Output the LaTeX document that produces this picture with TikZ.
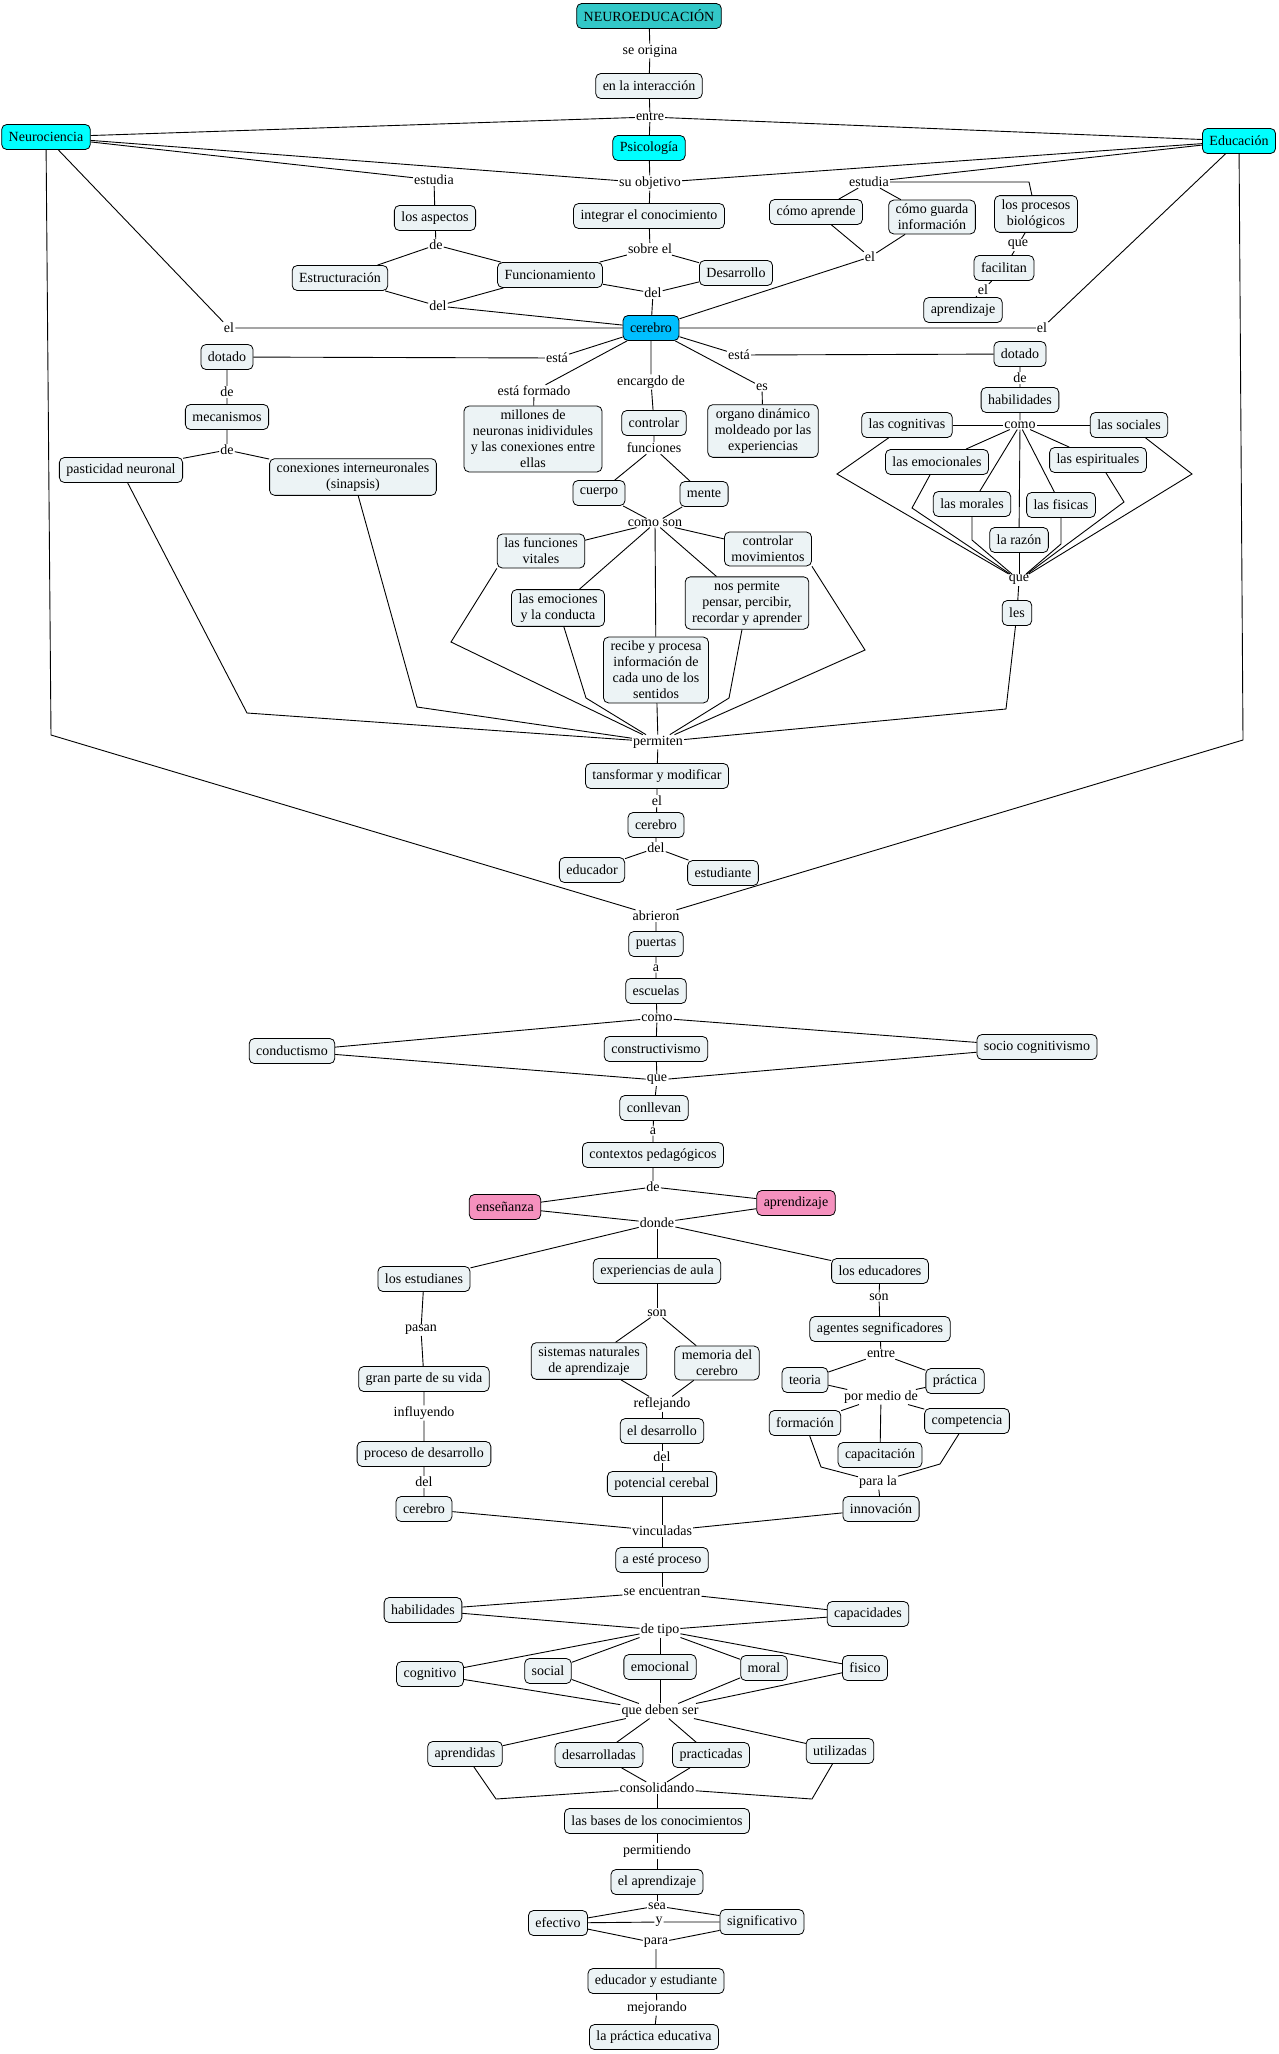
\documentclass[tikz,border=0pt]{standalone}
\usepackage{fontspec}
\setmainfont{Liberation Serif}
\newcommand\cmfont{\fontsize{14}{16}\selectfont}
\definecolor{boxfill}{RGB}{236,243,245}
\definecolor{teal1}{RGB}{51,200,200}
\definecolor{cyan1}{RGB}{0,255,255}
\definecolor{blue1}{RGB}{0,191,255}
\definecolor{pink1}{RGB}{245,145,190}
\tikzset{
  cpt/.style={draw=black, line width=0.8pt, rounded corners=5pt, fill=boxfill,
    inner xsep=7pt, inner ysep=4pt, minimum height=25pt, align=center, font=\cmfont},
  lnk/.style={inner sep=1pt, font=\cmfont},
  con/.style={line width=0.9pt, black}
}
\begin{document}
\begin{tikzpicture}[x=1pt,y=-1pt]
\fill[white] (0,0) rectangle (1279,2054);
\useasboundingbox (0,0) rectangle (1279,2054);
% ---------- top ----------
\node[cpt, fill=teal1] (neuroed) at (649,16) {NEUROEDUCACIÓN};
\node[lnk] (l_origina) at (650,51) {se origina};
\node[cpt] (interac) at (649,86) {en la interacción};
\node[lnk] (l_entre) at (650,117) {entre};
\node[cpt, fill=cyan1] (neuro) at (46,137) {Neurociencia};
\node[cpt, fill=cyan1] (psico) at (649,148) {Psicología};
\node[cpt, fill=cyan1] (educ) at (1239,141) {Educación};
\node[lnk] (l_objetivo) at (650,183) {su objetivo};
\node[lnk] (l_estudiaL) at (434,180) {estudia};
\node[lnk] (l_estudiaR) at (869,182) {estudia};
\node[cpt] (aspectos) at (435,218) {los aspectos};
\node[cpt] (integrar) at (649,216) {integrar el conocimiento};
\node[cpt] (comoapr) at (816,212) {cómo aprende};
\node[cpt] (comoguarda) at (932,217) {cómo guarda\\información};
\node[cpt] (procesos) at (1036,214) {los procesos\\biológicos};
\node[lnk] (l_deA) at (436,245) {de};
\node[lnk] (l_sobre) at (650,249) {sobre el};
\node[lnk] (l_elM) at (870,257) {el};
\node[lnk] (l_queA) at (1018,245) {que};
\node[cpt] (estruct) at (340,278) {Estructuración};
\node[cpt] (funcion) at (550,275) {Funcionamiento};
\node[cpt] (desarrollo) at (736,273) {Desarrollo};
\node[cpt] (facilitan) at (1004,268) {facilitan};
\node[lnk] (l_delL) at (438,306) {del};
\node[lnk] (l_delC) at (653,293) {del};
\node[lnk] (l_elA) at (983,290) {el};
\node[cpt] (aprendA) at (963,310) {aprendizaje};
\node[lnk] (l_elL) at (229,328) {el};
\node[lnk] (l_elR) at (1042,328) {el};
\node[cpt, fill=blue1] (cerebro) at (651,328) {cerebro};
% ---------- cerebro area ----------
\node[lnk] (l_estaL) at (557,358) {está};
\node[lnk] (l_estaR) at (739,355) {está};
\node[cpt] (dotadoL) at (227,357) {dotado};
\node[cpt] (dotadoR) at (1020,354) {dotado};
\node[lnk] (l_deB) at (227,392) {de};
\node[cpt] (mecan) at (227,417) {mecanismos};
\node[lnk] (l_deC) at (227,450) {de};
\node[cpt] (plast) at (121,470) {pasticidad neuronal};
\node[cpt] (conex) at (353,477) {conexiones interneuronales\\(sinapsis)};
\node[lnk] (l_formado) at (534,391) {está formado};
\node[cpt] (millones) at (533,439) {millones de\\neuronas inidividules\\y las conexiones entre\\ellas};
\node[lnk] (l_encargo) at (651,382) {encargdo de};
\node[cpt] (controlar) at (654,423) {controlar};
\node[lnk] (l_funciones) at (654,448) {funciones};
\node[cpt] (cuerpo) at (599,493) {cuerpo};
\node[cpt] (mente) at (704,494) {mente};
\node[lnk] (l_comoson) at (655,523) {como son};
\node[cpt] (vitales) at (541,551) {las funciones\\vitales};
\node[cpt] (movim) at (768,549) {controlar\\movimientos};
\node[cpt] (emoc) at (558,608) {las emociones\\y la conducta};
\node[cpt] (pensar) at (747,603) {nos permite\\pensar, percibir,\\recordar y aprender};
\node[cpt] (recibe) at (656,670) {recibe y procesa\\información de\\cada uno de los\\sentidos};
\node[lnk] (l_es) at (762,387) {es};
\node[cpt] (organo) at (763,431) {organo dinámico\\moldeado por las\\experiencias};
% ---------- habilidades right ----------
\node[lnk] (l_deD) at (1020,378) {de};
\node[cpt] (habil) at (1020,400) {habilidades};
\node[lnk] (l_como) at (1020,425) {como};
\node[cpt] (cognit) at (907,425) {las cognitivas};
\node[cpt] (social) at (1129,425) {las sociales};
\node[cpt] (emocion) at (937,462) {las emocionales};
\node[cpt] (espirit) at (1098,460) {las espirituales};
\node[cpt] (morales) at (972,504) {las morales};
\node[cpt] (fisicas) at (1061,505) {las fisicas};
\node[cpt] (razon) at (1019,540) {la razón};
\node[lnk] (l_queB) at (1019,580) {que};
\node[cpt] (les) at (1017,613) {les};
% ---------- middle ----------
\node[lnk] (l_permiten) at (658,742) {permiten};
\node[cpt] (transf) at (657,776) {tansformar y modificar};
\node[lnk] (l_elB) at (657,801) {el};
\node[cpt] (cerebroB) at (656,825) {cerebro};
\node[lnk] (l_delB) at (656,848) {del};
\node[cpt] (educador) at (592,870) {educador};
\node[cpt] (estudiante) at (723,873) {estudiante};
\node[lnk] (l_abrieron) at (656,916) {abrieron};
\node[cpt] (puertas) at (656,944) {puertas};
\node[lnk] (l_aA) at (656,968) {a};
\node[cpt] (escuelas) at (656,991) {escuelas};
\node[lnk] (l_comoB) at (657,1018) {como};
\node[cpt] (conduct) at (292,1051) {conductismo};
\node[cpt] (construct) at (656,1049) {constructivismo};
\node[cpt] (sociocog) at (1037,1047) {socio cognitivismo};
\node[lnk] (l_queC) at (657,1080) {que};
\node[cpt] (conllevan) at (654,1108) {conllevan};
\node[lnk] (l_aB) at (653,1131) {a};
\node[cpt] (contextos) at (653,1155) {contextos pedagógicos};
\node[lnk] (l_deE) at (653,1187) {de};
\node[cpt, fill=pink1] (ensen) at (505,1207) {enseñanza};
\node[cpt, fill=pink1] (aprendB) at (796,1203) {aprendizaje};
\node[lnk] (l_donde) at (657,1223) {donde};
% ---------- lower ----------
\node[cpt] (estudianes) at (424,1279) {los estudianes};
\node[cpt] (experiencias) at (657,1271) {experiencias de aula};
\node[cpt] (educadores) at (880,1271) {los educadores};
\node[lnk] (l_pasan) at (421,1330) {pasan};
\node[cpt] (granparte) at (424,1379) {gran parte de su vida};
\node[lnk] (l_influyendo) at (424,1413) {influyendo};
\node[cpt] (procdes) at (424,1454) {proceso de desarrollo};
\node[lnk] (l_delD) at (424,1482) {del};
\node[cpt] (cerebroC) at (424,1509) {cerebro};
\node[lnk] (l_sonA) at (657,1313) {son};
\node[cpt] (sistemas) at (589,1361) {sistemas naturales\\de aprendizaje};
\node[cpt] (memoria) at (717,1363) {memoria del\\cerebro};
\node[lnk] (l_reflejando) at (662,1404) {reflejando};
\node[cpt] (eldesarrollo) at (662,1431) {el desarrollo};
\node[lnk] (l_delE) at (662,1457) {del};
\node[cpt] (potencial) at (662,1484) {potencial cerebal};
\node[lnk] (l_vinculadas) at (662,1531) {vinculadas};
\node[lnk] (l_sonB) at (879,1297) {son};
\node[cpt] (agentes) at (880,1329) {agentes segnificadores};
\node[lnk] (l_entreB) at (881,1354) {entre};
\node[cpt] (teoria) at (805,1380) {teoria};
\node[cpt] (practica) at (955,1381) {práctica};
\node[lnk] (l_pormedio) at (881,1397) {por medio de};
\node[cpt] (formacion) at (805,1423) {formación};
\node[cpt] (capacit) at (880,1455) {capacitación};
\node[cpt] (competencia) at (967,1421) {competencia};
\node[lnk] (l_parala) at (878,1482) {para la};
\node[cpt] (innovacion) at (881,1509) {innovación};
% ---------- bottom ----------
\node[cpt] (esteproceso) at (662,1560) {a esté proceso};
\node[lnk] (l_encuentran) at (662,1592) {se encuentran};
\node[cpt] (habilB) at (423,1610) {habilidades};
\node[cpt] (capacidades) at (868,1614) {capacidades};
\node[lnk] (l_detipo) at (660,1630) {de tipo};
\node[cpt] (cognitivo) at (430,1674) {cognitivo};
\node[cpt] (socialB) at (548,1671) {social};
\node[cpt] (emocional) at (660,1667) {emocional};
\node[cpt] (moral) at (764,1668) {moral};
\node[cpt] (fisico) at (865,1668) {fisico};
\node[lnk] (l_deben) at (660,1711) {que deben ser};
\node[cpt] (aprendidas) at (465,1754) {aprendidas};
\node[cpt] (desarrolladas) at (599,1755) {desarrolladas};
\node[cpt] (practicadas) at (711,1755) {practicadas};
\node[cpt] (utilizadas) at (840,1751) {utilizadas};
\node[lnk] (l_consolidando) at (657,1788) {consolidando};
\node[cpt] (bases) at (657,1821) {las bases de los conocimientos};
\node[lnk] (l_permitiendo) at (657,1851) {permitiendo};
\node[cpt] (elaprendizaje) at (657,1882) {el aprendizaje};
\node[lnk] (l_sea) at (657,1906) {sea};
\node[lnk] (l_y) at (659,1922) {y};
\node[lnk] (l_para) at (656,1943) {para};
\node[cpt] (efectivo) at (558,1923) {efectivo};
\node[cpt] (signif) at (762,1922) {significativo};
\node[cpt] (edyest) at (656,1981) {educador y estudiante};
\node[lnk] (l_mejorando) at (657,2008) {mejorando};
\node[cpt] (practicaed) at (654,2037) {la práctica educativa};
% ---------- bends ----------
\coordinate (bNeuro) at (51,735);
\coordinate (bEduc) at (1243,740);
\coordinate (bProc) at (1029,182);
\coordinate (bPlast) at (247,713);
\coordinate (bConex) at (417,707);
\coordinate (bVit) at (451,642);
\coordinate (bEmo) at (586,698);
\coordinate (bPens) at (729,698);
\coordinate (bMov) at (865,650);
\coordinate (bLes) at (1006,709);
\coordinate (bCog) at (837,474);
\coordinate (bEmoc) at (912,508);
\coordinate (bMor) at (972,540);
\coordinate (bFis) at (1061,544);
\coordinate (bEsp) at (1124,502);
\coordinate (bSoc) at (1192,474);
\coordinate (bForm) at (821,1467);
\coordinate (bComp) at (940,1464);
\coordinate (bAprd) at (496,1799);
\coordinate (bUtil) at (812,1799);
% ---------- connectors ----------
\begin{scope}[con]
\draw (neuroed) -- (l_origina) -- (interac) -- (l_entre);
\draw (l_entre) -- (neuro);
\draw (l_entre) -- (psico);
\draw (l_entre) -- (educ);
\draw (neuro) -- (l_estudiaL) -- (aspectos) -- (l_deA);
\draw (l_deA) -- (estruct);
\draw (l_deA) -- (funcion);
\draw (estruct) -- (l_delL) -- (cerebro);
\draw (funcion) -- (l_delL);
\draw (neuro) -- (l_objetivo);
\draw (psico) -- (l_objetivo);
\draw (educ) -- (l_objetivo);
\draw (l_objetivo) -- (integrar) -- (l_sobre);
\draw (l_sobre) -- (funcion);
\draw (l_sobre) -- (desarrollo);
\draw (funcion) -- (l_delC);
\draw (desarrollo) -- (l_delC);
\draw (l_delC) -- (cerebro);
\draw (neuro) -- (l_elL) -- (cerebro);
\draw (educ) -- (l_estudiaR);
\draw (l_estudiaR) -- (comoapr);
\draw (l_estudiaR) -- (comoguarda);
\draw (l_estudiaR) -- (bProc) -- (procesos);
\draw (comoapr) -- (l_elM);
\draw (comoguarda) -- (l_elM);
\draw (l_elM) -- (cerebro);
\draw (procesos) -- (l_queA) -- (facilitan) -- (l_elA) -- (aprendA);
\draw (educ) -- (l_elR) -- (cerebro);
\draw (neuro) -- (bNeuro) -- (l_abrieron);
\draw (educ) -- (bEduc) -- (l_abrieron);
\draw (cerebro) -- (l_estaL) -- (dotadoL) -- (l_deB) -- (mecan) -- (l_deC);
\draw (l_deC) -- (plast);
\draw (l_deC) -- (conex);
\draw (cerebro) -- (l_formado) -- (millones);
\draw (cerebro) -- (l_encargo) -- (controlar) -- (l_funciones);
\draw (l_funciones) -- (cuerpo);
\draw (l_funciones) -- (mente);
\draw (cuerpo) -- (l_comoson);
\draw (mente) -- (l_comoson);
\draw (l_comoson) -- (vitales);
\draw (l_comoson) -- (movim);
\draw (l_comoson) -- (emoc);
\draw (l_comoson) -- (pensar);
\draw (l_comoson) -- (recibe);
\draw (cerebro) -- (l_es) -- (organo);
\draw (cerebro) -- (l_estaR) -- (dotadoR) -- (l_deD) -- (habil) -- (l_como);
\draw (l_como) -- (cognit);
\draw (l_como) -- (social);
\draw (l_como) -- (emocion);
\draw (l_como) -- (espirit);
\draw (l_como) -- (morales);
\draw (l_como) -- (fisicas);
\draw (l_como) -- (razon);
\draw (cognit) -- (bCog) -- (l_queB);
\draw (emocion) -- (bEmoc) -- (l_queB);
\draw (morales) -- (bMor) -- (l_queB);
\draw (razon) -- (l_queB);
\draw (fisicas) -- (bFis) -- (l_queB);
\draw (espirit) -- (bEsp) -- (l_queB);
\draw (social) -- (bSoc) -- (l_queB);
\draw (l_queB) -- (les);
\draw (plast) -- (bPlast) -- (l_permiten);
\draw (conex) -- (bConex) -- (l_permiten);
\draw (vitales.south west) -- (bVit) -- (l_permiten);
\draw (emoc) -- (bEmo) -- (l_permiten);
\draw (recibe) -- (l_permiten);
\draw (pensar) -- (bPens) -- (l_permiten);
\draw (movim.south east) -- (bMov) -- (l_permiten);
\draw (les) -- (bLes) -- (l_permiten);
\draw (l_permiten) -- (transf) -- (l_elB) -- (cerebroB) -- (l_delB);
\draw (l_delB) -- (educador);
\draw (l_delB) -- (estudiante);
\draw (l_abrieron) -- (puertas) -- (l_aA) -- (escuelas) -- (l_comoB);
\draw (l_comoB) -- (conduct);
\draw (l_comoB) -- (construct);
\draw (l_comoB) -- (sociocog);
\draw (conduct) -- (l_queC);
\draw (construct) -- (l_queC);
\draw (sociocog) -- (l_queC);
\draw (l_queC) -- (conllevan) -- (l_aB) -- (contextos) -- (l_deE);
\draw (l_deE) -- (ensen);
\draw (l_deE) -- (aprendB);
\draw (ensen) -- (l_donde);
\draw (aprendB) -- (l_donde);
\draw (l_donde) -- (estudianes);
\draw (l_donde) -- (experiencias);
\draw (l_donde) -- (educadores);
\draw (estudianes) -- (l_pasan) -- (granparte) -- (l_influyendo) -- (procdes) -- (l_delD) -- (cerebroC) -- (l_vinculadas);
\draw (experiencias) -- (l_sonA);
\draw (l_sonA) -- (sistemas);
\draw (l_sonA) -- (memoria);
\draw (sistemas) -- (l_reflejando);
\draw (memoria) -- (l_reflejando);
\draw (l_reflejando) -- (eldesarrollo) -- (l_delE) -- (potencial) -- (l_vinculadas);
\draw (educadores) -- (l_sonB) -- (agentes) -- (l_entreB);
\draw (l_entreB) -- (teoria);
\draw (l_entreB) -- (practica);
\draw (teoria) -- (l_pormedio);
\draw (practica) -- (l_pormedio);
\draw (l_pormedio) -- (formacion);
\draw (l_pormedio) -- (capacit);
\draw (l_pormedio) -- (competencia);
\draw (formacion) -- (bForm) -- (l_parala);
\draw (competencia) -- (bComp) -- (l_parala);
\draw (l_parala) -- (innovacion) -- (l_vinculadas);
\draw (l_vinculadas) -- (esteproceso) -- (l_encuentran);
\draw (l_encuentran) -- (habilB);
\draw (l_encuentran) -- (capacidades);
\draw (habilB) -- (l_detipo);
\draw (capacidades) -- (l_detipo);
\draw (l_detipo) -- (cognitivo);
\draw (l_detipo) -- (socialB);
\draw (l_detipo) -- (emocional);
\draw (l_detipo) -- (moral);
\draw (l_detipo) -- (fisico);
\draw (cognitivo) -- (l_deben);
\draw (socialB) -- (l_deben);
\draw (emocional) -- (l_deben);
\draw (moral) -- (l_deben);
\draw (fisico) -- (l_deben);
\draw (l_deben) -- (aprendidas);
\draw (l_deben) -- (desarrolladas);
\draw (l_deben) -- (practicadas);
\draw (l_deben) -- (utilizadas);
\draw (aprendidas) -- (bAprd) -- (l_consolidando);
\draw (desarrolladas) -- (l_consolidando);
\draw (practicadas) -- (l_consolidando);
\draw (utilizadas) -- (bUtil) -- (l_consolidando);
\draw (l_consolidando) -- (bases) -- (l_permitiendo) -- (elaprendizaje) -- (l_sea);
\draw (l_sea) -- (efectivo);
\draw (l_sea) -- (signif);
\draw (efectivo) -- (l_y) -- (signif);
\draw (efectivo) -- (l_para);
\draw (signif) -- (l_para);
\draw (l_para) -- (edyest) -- (l_mejorando) -- (practicaed);
\end{scope}
\end{tikzpicture}
\end{document}
